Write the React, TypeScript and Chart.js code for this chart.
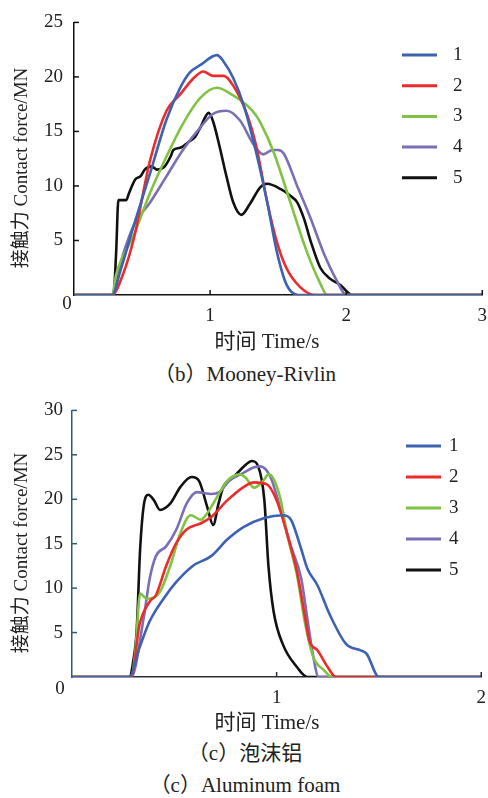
import React, { useEffect, useRef } from "react";
import { Chart, registerables } from "chart.js";

Chart.register(...registerables);

// ---------- Data: (b) Mooney-Rivlin  [time s, force MN] ----------
const mrSeries1: [number, number][] = [[0,0],[0.28,0],[0.34,2.2],[0.44,6.4],[0.56,11.2],[0.68,16.1],[0.78,19.0],[0.85,20.4],[0.93,21.1],[1.05,22.0],[1.1,21.4],[1.17,19.9],[1.25,17.3],[1.34,13.0],[1.42,8.5],[1.49,4.0],[1.56,1.0],[1.65,0],[3,0]];
const mrSeries2: [number, number][] = [[0,0],[0.28,0],[0.36,1.9],[0.44,5.2],[0.56,12.4],[0.68,16.9],[0.78,18.4],[0.88,19.9],[0.95,20.5],[1.02,20.1],[1.1,20.1],[1.17,19.2],[1.27,16.6],[1.34,13.6],[1.42,8.5],[1.49,4.9],[1.56,2.5],[1.66,0.75],[1.77,0],[3,0]];
const mrSeries3: [number, number][] = [[0,0],[0.28,0],[0.31,1.9],[0.44,5.5],[0.56,9.4],[0.68,12.7],[0.8,15.7],[0.93,18.1],[1.05,19.0],[1.17,18.3],[1.27,17.4],[1.33,16.6],[1.37,15.8],[1.47,13.0],[1.59,8.5],[1.71,4.0],[1.81,1.05],[1.86,0],[3,0]];
const mrSeries4: [number, number][] = [[0,0],[0.28,0],[0.36,3.7],[0.44,6.4],[0.56,8.5],[0.68,10.9],[0.8,13.3],[0.93,15.4],[1.02,16.6],[1.12,16.9],[1.22,16.0],[1.32,13.8],[1.39,12.9],[1.46,13.3],[1.5,13.3],[1.54,13.0],[1.64,10.0],[1.74,7.0],[1.83,4.0],[1.93,1.35],[2.0,0],[3,0]];
const mrSeries5: [number, number][] = [[0,0],[0.29,0],[0.31,4],[0.326,8.7],[0.385,8.7],[0.4,9.2],[0.45,10.6],[0.49,10.9],[0.52,11.5],[0.57,11.8],[0.61,11.5],[0.66,11.7],[0.71,12.7],[0.73,13.3],[0.78,13.5],[0.85,14.1],[0.89,14.5],[0.93,15.4],[0.99,16.7],[1.02,16.0],[1.07,13.6],[1.12,10.9],[1.17,8.5],[1.23,7.35],[1.29,8.3],[1.37,9.9],[1.42,10.2],[1.52,9.7],[1.59,9.1],[1.64,8.5],[1.69,7.0],[1.74,4.9],[1.81,2.5],[1.88,1.5],[1.96,0.9],[2.02,0.15],[2.04,0],[3,0]];

// ---------- Data: (c) Aluminum foam  [time s, force MN] ----------
const afSeries1: [number, number][] = [[0,0],[0.28,0],[0.33,3.3],[0.38,6.3],[0.45,8.9],[0.51,10.7],[0.59,12.5],[0.68,13.6],[0.76,15.5],[0.84,16.9],[0.94,17.9],[1.03,18.2],[1.07,17.7],[1.12,14.4],[1.15,12.2],[1.2,10.3],[1.26,7.0],[1.34,3.7],[1.41,3.0],[1.44,2.6],[1.5,0],[2,0]];
const afSeries2: [number, number][] = [[0,0],[0.29,0],[0.33,5.9],[0.38,8.5],[0.41,9.2],[0.46,12.5],[0.51,15.1],[0.56,16.6],[0.63,17.3],[0.68,18.0],[0.76,19.9],[0.84,21.4],[0.89,21.9],[0.95,21.7],[1.0,19.9],[1.05,16.2],[1.1,11.8],[1.14,6.6],[1.16,4.1],[1.2,3.0],[1.25,1.1],[1.29,0],[2,0]];
const afSeries3: [number, number][] = [[0,0],[0.29,0],[0.31,3],[0.333,9.4],[0.365,8.8],[0.43,9.6],[0.48,12.5],[0.53,16.2],[0.58,18.2],[0.63,17.7],[0.66,18.4],[0.71,20.3],[0.76,22.1],[0.82,22.8],[0.85,22.4],[0.89,21.3],[0.935,22.1],[0.96,22.8],[0.985,22.3],[1.02,19.9],[1.05,16.2],[1.1,11.4],[1.14,5.9],[1.18,2.2],[1.23,0.8],[1.27,0],[2,0]];
const afSeries4: [number, number][] = [[0,0],[0.29,0],[0.35,6.6],[0.38,11.1],[0.41,13.6],[0.46,14.7],[0.51,16.6],[0.56,19.5],[0.61,20.8],[0.68,20.6],[0.72,20.8],[0.77,22.1],[0.84,23.0],[0.89,23.6],[0.92,23.7],[0.97,22.5],[1.02,18.8],[1.07,14.7],[1.12,11.1],[1.15,6.6],[1.18,2.2],[1.205,0],[2,0]];
const afSeries5: [number, number][] = [[0,0],[0.28,0],[0.3,1.9],[0.316,5.2],[0.333,14.4],[0.35,19.2],[0.373,20.5],[0.4,19.9],[0.43,18.8],[0.48,19.5],[0.53,21.4],[0.585,22.5],[0.62,22.1],[0.66,19.2],[0.69,17.1],[0.716,19.5],[0.74,21.4],[0.79,22.5],[0.84,23.7],[0.88,24.3],[0.91,23.7],[0.94,19.9],[0.96,12.5],[0.985,7.4],[1.03,3.7],[1.1,1.1],[1.15,0],[2,0]];

const seriesLabels = ["1", "2", "3", "4", "5"];
const seriesColors = ["#3d62b2", "#ee2b2b", "#80c342", "#7a6fb6", "#111111"];
const xTitle = "时间 Time/s";
const yTitle = "接触力 Contact force/MN";
const mrXMax = 3;
const mrYMax = 25;
const afXMax = 2;
const afYMax = 30;

const FONT = '"Liberation Serif", "Noto Sans CJK SC", serif';

type Layout = {
  width: number;
  height: number;
  padTop: number;
  padRight: number;
  yAxisWidth: number;
  xAxisHeight: number;
  yTickPad: number;
  xTickPad: number;
  yAxisColor: string;
  xAxisColor: string;
  originDx: number;
  originDy: number;
  yTitleX: number;
  yTitleY: number;
  xTitleX: number;
  xTitleY: number;
  legX0: number;
  legX1: number;
  legTextX: number;
  legY0: number;
  legStep: number;
};

function makeDecor(L: Layout) {
  return {
    id: "decor",
    afterDraw(chart: any) {
      const ctx = chart.ctx as CanvasRenderingContext2D;
      const { left, bottom } = chart.chartArea;
      const xs = chart.scales.x;
      const ys = chart.scales.y;
      ctx.save();
      // inward tick marks
      ctx.lineWidth = 1.5;
      ctx.strokeStyle = L.yAxisColor;
      ys.ticks.forEach((t: any) => {
        if (t.value === 0) return;
        const py = ys.getPixelForValue(t.value);
        ctx.beginPath();
        ctx.moveTo(left, py);
        ctx.lineTo(left + 5, py);
        ctx.stroke();
      });
      ctx.strokeStyle = L.xAxisColor;
      xs.ticks.forEach((t: any) => {
        if (t.value === 0) return;
        const px = xs.getPixelForValue(t.value);
        ctx.beginPath();
        ctx.moveTo(px, bottom);
        ctx.lineTo(px, bottom - 5);
        ctx.stroke();
      });
      ctx.fillStyle = "#222";
      ctx.textAlign = "center";
      ctx.textBaseline = "middle";
      // origin label
      ctx.font = `19px ${FONT}`;
      ctx.fillText("0", left + L.originDx, bottom + L.originDy);
      // x title
      ctx.font = `21px ${FONT}`;
      ctx.fillText(xTitle, L.xTitleX, L.xTitleY);
      // y title
      ctx.font = `19px ${FONT}`;
      ctx.save();
      ctx.translate(L.yTitleX, L.yTitleY);
      ctx.rotate(-Math.PI / 2);
      ctx.fillText(yTitle, 0, 0);
      ctx.restore();
      // legend
      chart.data.datasets.forEach((ds: any, i: number) => {
        const y = L.legY0 + i * L.legStep;
        ctx.strokeStyle = ds.borderColor;
        ctx.lineWidth = 3;
        ctx.beginPath();
        ctx.moveTo(L.legX0, y);
        ctx.lineTo(L.legX1, y);
        ctx.stroke();
        ctx.fillStyle = "#222";
        ctx.textAlign = "left";
        ctx.fillText(ds.label, L.legTextX, y);
      });
      ctx.restore();
    },
  };
}

function ForceChart(props: {
  series: [number, number][][];
  xMax: number;
  yMax: number;
  layout: Layout;
}) {
  const ref = useRef<HTMLCanvasElement>(null);
  const { series, xMax, yMax, layout: L } = props;
  useEffect(() => {
    if (!ref.current) return;
    const chart = new Chart(ref.current, {
      type: "line",
      data: {
        datasets: series.map((s, i) => ({
          label: seriesLabels[i],
          data: s.map(([x, y]) => ({ x, y })),
          borderColor: seriesColors[i],
          backgroundColor: seriesColors[i],
          borderWidth: 2.6,
          pointRadius: 0,
          cubicInterpolationMode: "monotone" as const,
          fill: false,
        })),
      },
      options: {
        animation: false,
        responsive: false,
        layout: { padding: { top: L.padTop, right: L.padRight, left: 0, bottom: 0 } },
        plugins: { legend: { display: false }, tooltip: { enabled: false }, title: { display: false } },
        scales: {
          x: {
            type: "linear",
            min: 0,
            max: xMax,
            afterFit: (s: any) => {
              s.height = L.xAxisHeight;
            },
            grid: { display: false, drawTicks: false },
            border: { display: true, color: L.xAxisColor, width: 1.5 },
            ticks: {
              stepSize: 1,
              padding: L.xTickPad,
              color: "#222",
              font: { family: FONT, size: 19 },
              callback: (v: any) => (v === 0 ? "" : String(v)),
            },
          },
          y: {
            type: "linear",
            min: 0,
            max: yMax,
            afterFit: (s: any) => {
              s.width = L.yAxisWidth;
            },
            grid: { display: false, drawTicks: false },
            border: { display: true, color: L.yAxisColor, width: 1.5 },
            ticks: {
              stepSize: 5,
              padding: L.yTickPad,
              color: "#222",
              font: { family: FONT, size: 19 },
              callback: (v: any) => (v === 0 ? "" : String(v)),
            },
          },
        },
      },
      plugins: [makeDecor(L)],
    });
    return () => chart.destroy();
  }, []);
  return <canvas ref={ref} width={L.width} height={L.height} style={{ display: "block" }} />;
}

const mrLayout: Layout = {
  width: 497, height: 360, padTop: 17, padRight: 6, yAxisWidth: 74, xAxisHeight: 65,
  yTickPad: 11, xTickPad: 10, yAxisColor: "#111", xAxisColor: "#111",
  originDx: -7, originDy: 9, yTitleX: 22, yTitleY: 168, xTitleX: 267, xTitleY: 342,
  legX0: 402, legX1: 437, legTextX: 453, legY0: 55, legStep: 30.7,
};

const afLayout: Layout = {
  width: 496, height: 345, padTop: 15, padRight: 7, yAxisWidth: 72, xAxisHeight: 58,
  yTickPad: 9, xTickPad: 10, yAxisColor: "#2d5b78", xAxisColor: "#2c2c38",
  originDx: -12, originDy: 12, yTitleX: 22, yTitleY: 163, xTitleX: 267, xTitleY: 333,
  legX0: 406, legX1: 441, legTextX: 449, legY0: 56, legStep: 31,
};

const captionStyle: React.CSSProperties = {
  position: "absolute",
  left: 0,
  width: 490,
  textAlign: "center",
  fontFamily: FONT,
  fontSize: 21,
  lineHeight: "24px",
  color: "#222",
  whiteSpace: "nowrap",
};

export default function App() {
  return (
    <div style={{ position: "absolute", left: 0, top: 0, width: 488, height: 798, background: "#fff", overflow: "hidden" }}>
      <div style={{ position: "absolute", left: 0, top: 0 }}>
        <ForceChart series={[mrSeries1, mrSeries2, mrSeries3, mrSeries4, mrSeries5]} xMax={mrXMax} yMax={mrYMax} layout={mrLayout} />
      </div>
      <div style={{ ...captionStyle, top: 362 }}>（b）Mooney-Rivlin</div>
      <div style={{ position: "absolute", left: 0, top: 390 }}>
        <ForceChart series={[afSeries1, afSeries2, afSeries3, afSeries4, afSeries5]} xMax={afXMax} yMax={afYMax} layout={afLayout} />
      </div>
      <div style={{ ...captionStyle, top: 741 }}>（c）泡沫铝</div>
      <div style={{ ...captionStyle, top: 773 }}>（c）Aluminum foam</div>
    </div>
  );
}
